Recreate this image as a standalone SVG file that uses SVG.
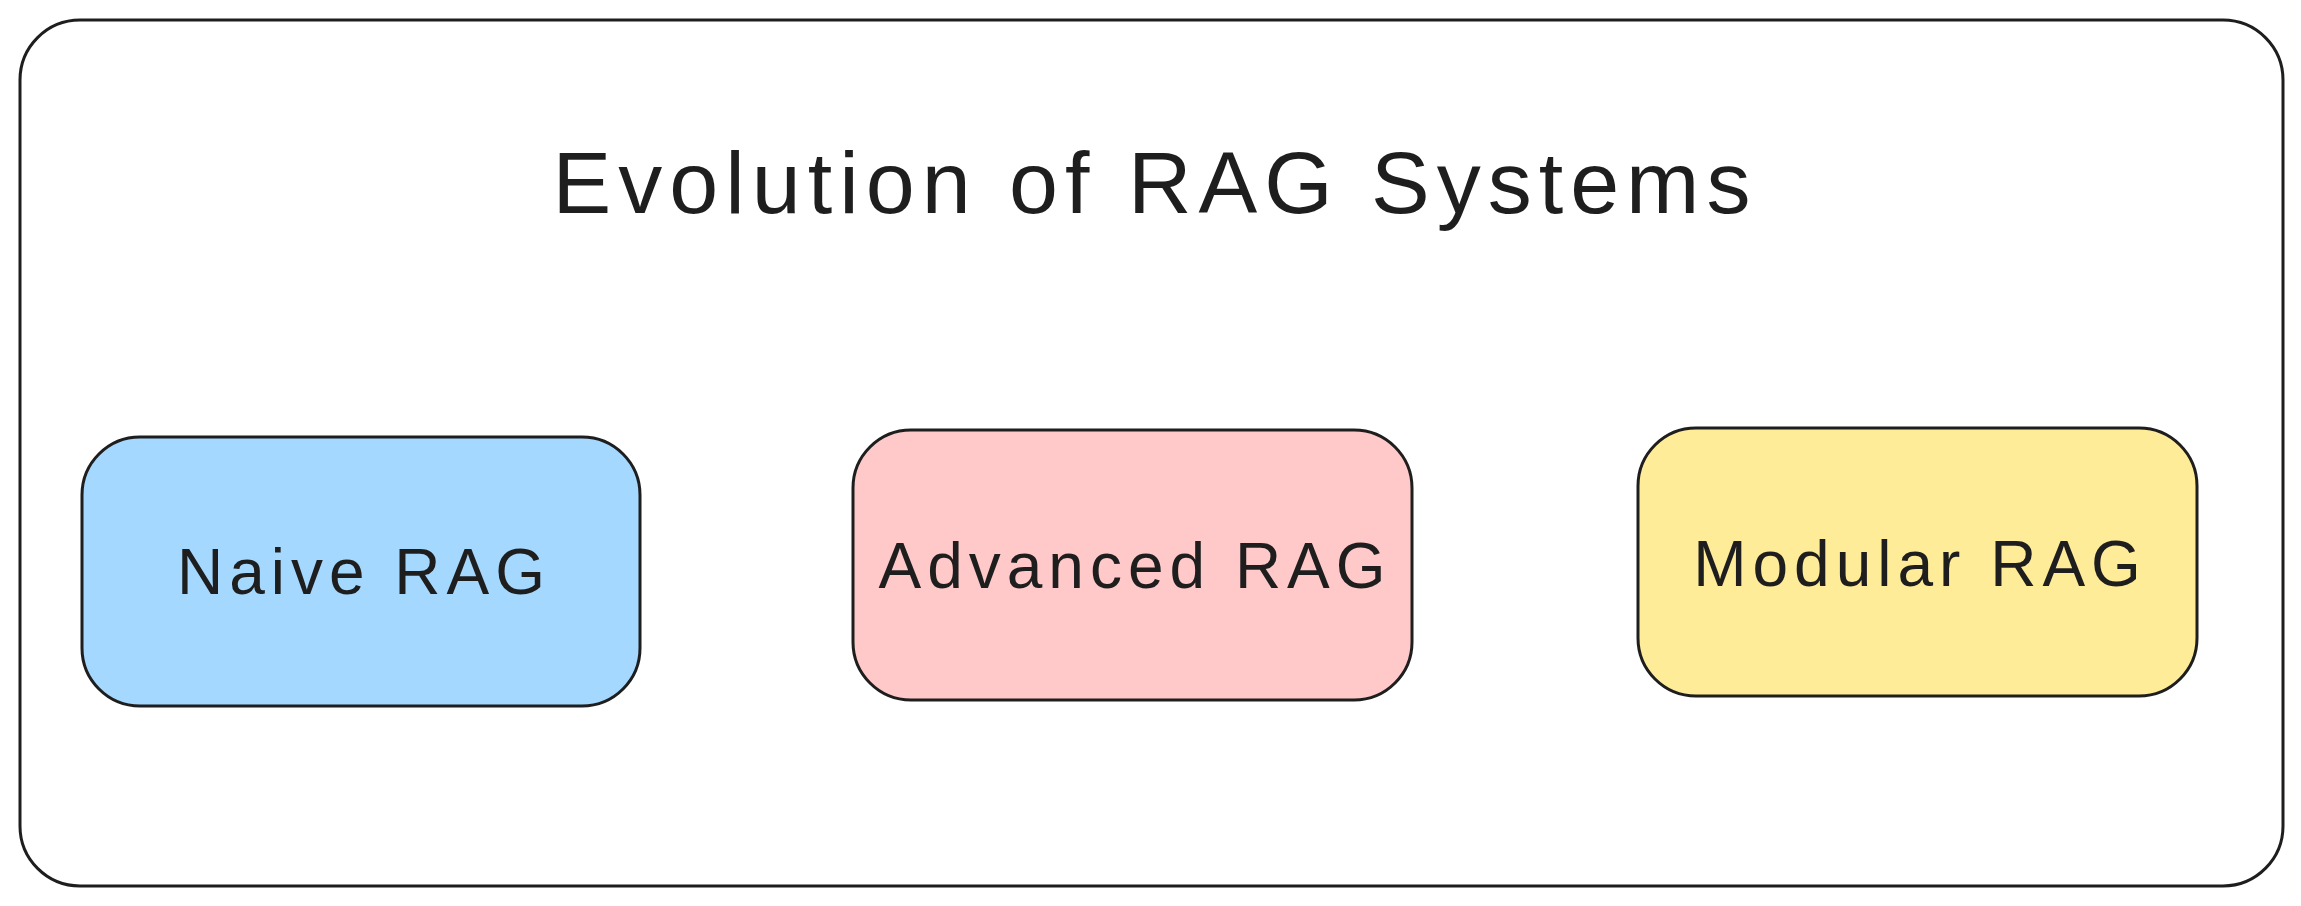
<svg xmlns="http://www.w3.org/2000/svg" width="2301" height="906" viewBox="0 0 2301 906">
  <style>
    .frame { fill: #ffffff; stroke: #1e1e1e; stroke-width: 3; }
    .box { stroke: #1e1e1e; stroke-width: 3; }
    .title { font-family: "Liberation Sans", Arial, sans-serif; font-size: 88px; letter-spacing: 7px; fill: #1e1e1e; text-anchor: middle; }
    .label { font-family: "Liberation Sans", Arial, sans-serif; font-size: 64px; letter-spacing: 6px; fill: #1e1e1e; text-anchor: middle; }
  </style>
  <rect width="2301" height="906" fill="#ffffff"/>
  <g id="frame">
    <rect class="frame" x="20" y="20" width="2263" height="866" rx="60" ry="60"/>
    <text class="title" x="1155" y="213">Evolution of RAG Systems</text>
  </g>
  <g id="naive-rag">
    <rect class="box" x="82" y="437" width="558" height="269" rx="58" ry="58" fill="#a5d8ff"/>
    <text class="label" x="364" y="594">Naive RAG</text>
  </g>
  <g id="advanced-rag">
    <rect class="box" x="853" y="430" width="559" height="270" rx="58" ry="58" fill="#ffc9c9"/>
    <text class="label" x="1135" y="588">Advanced RAG</text>
  </g>
  <g id="modular-rag">
    <rect class="box" x="1638" y="428" width="559" height="268" rx="58" ry="58" fill="#ffec99"/>
    <text class="label" x="1920" y="586">Modular RAG</text>
  </g>
  <g id="connectors"></g>
</svg>
